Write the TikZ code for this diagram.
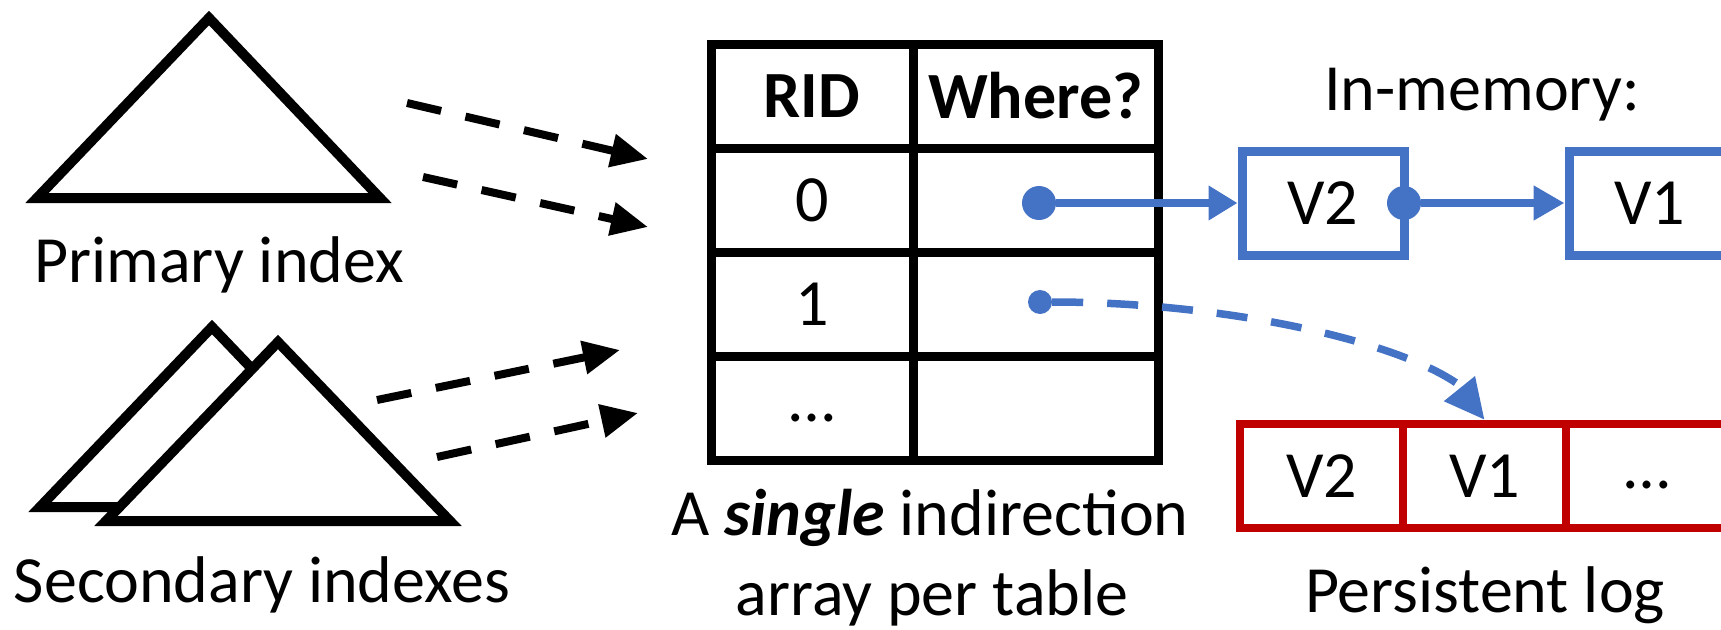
\documentclass[tikz,border=0pt]{standalone}
\usepackage{fontspec}
\setmainfont{Carlito}
\usetikzlibrary{arrows.meta,bending}
\definecolor{pblue}{HTML}{4472C4}
\definecolor{pred}{HTML}{C00000}
\begin{document}
\begin{tikzpicture}[x=1pt,y=-1pt,
  bigfont/.style={font=\fontsize{66}{79}\selectfont},
  lbl/.style={bigfont, inner sep=0pt, anchor=base},
  tri/.style={draw=black, line width=10pt, fill=white, line join=miter},
  cell/.style={draw=black, line width=9pt, minimum width=#1, minimum height=104pt, inner sep=0pt, bigfont},
  vbox/.style={draw=pblue, line width=9pt, minimum width=162pt, minimum height=104pt, inner sep=0pt, bigfont},
  lcell/.style={draw=pred, line width=8.5pt, minimum width=163pt, minimum height=104pt, inner sep=0pt, bigfont},
  bdot/.style={circle, fill=pblue, minimum size=#1, inner sep=0pt},
  idxarrow/.style={draw=black, line width=8pt, dash pattern=on 35pt off 25pt, -{Triangle[length=37pt,width=32pt]}},
  bline/.style={draw=pblue, line width=8pt},
]
\useasboundingbox (0,0) rectangle (1721,629);
\clip (0,0) rectangle (1721,629);

% index triangles
\draw[tri] (37,198) -- (209,18) -- (380,198) -- cycle;
\draw[tri] (40,507) -- (212,327) -- (384,507) -- cycle;
\draw[tri] (106,521) -- (278,342) -- (450,521) -- cycle;
\node[lbl] (plbl) at (219,282) {Primary index};
\node[lbl] (slbl) at (262,602) {Secondary indexes};

% dashed arrows from indexes
\coordinate (a1s) at (407,103); \coordinate (a1e) at (648,159);
\coordinate (a2s) at (423,177); \coordinate (a2e) at (648,227);
\coordinate (a3s) at (377,400); \coordinate (a3e) at (620,350);
\coordinate (a4s) at (437,457); \coordinate (a4e) at (638,413);
\draw[idxarrow] (a1s) -- (a1e);
\draw[idxarrow] (a2s) -- (a2e);
\draw[idxarrow] (a3s) -- (a3e);
\draw[idxarrow] (a4s) -- (a4e);

% indirection table
\node[cell=202] (h1) at (812,96) {\textbf{RID}};
\node[cell=245] (h2) at (1035.5,96) {\textbf{Where?}};
\node[cell=202] (r0a) at (812,200) {0};
\node[cell=245] (r0b) at (1035.5,200) {};
\node[cell=202] (r1a) at (812,304) {1};
\node[cell=245] (r1b) at (1035.5,304) {};
\node[cell=202] (r2a) at (812,408) {};
\node[cell=245] (r2b) at (1035.5,408) {};
\node[lbl] (r2dots) at (812,421) {…};
\node[lbl] (tlbl1) at (930,535) {A \textbf{\textit{single}} indirection};
\node[lbl] (tlbl2) at (932,615) {array per table};

% in-memory versions
\node[lbl] (mlbl) at (1482,110) {In-memory:};
\node[vbox] (v2) at (1323,203) {V2};
\node[vbox] (v1) at (1650,203) {V1};

% persistent log
\node[lcell] (lg1) at (1321.5,476) {V2};
\node[lcell] (lg2) at (1484.5,476) {V1};
\node[lcell] (lg3) at (1647.5,476) {};
\node[lbl] (lgdots) at (1647,488) {…};
\node[lbl] (llbl) at (1485,612) {Persistent log};

% pointers
\node[bdot=34pt] (dot0) at (1039,203) {};
\node[bdot=24pt] (dot1) at (1040,302) {};
\node[bdot=34pt] (dot2) at (1404,203) {};
\draw[bline, -{Triangle[length=29pt,width=33pt]}] (dot0) -- (v2.west);
\draw[bline, -{Triangle[length=31pt,width=33pt]}] (dot2) -- (v1.west);
\draw[bline, line width=7.5pt, dash pattern=on 31pt off 24pt, -{Triangle[length=40pt,width=38pt]}]
  (dot1) .. controls (1261,302) and (1482,360) .. (lg2.north);
\end{tikzpicture}
\end{document}
